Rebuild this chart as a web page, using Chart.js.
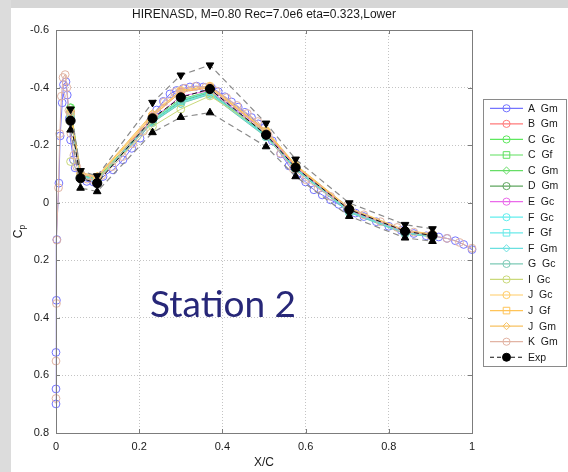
<!DOCTYPE html>
<html>
<head>
<meta charset="utf-8">
<script src="https://cdn.jsdelivr.net/npm/chart.js@4/dist/chart.umd.min.js"></script>
<style>
  html, body { margin: 0; padding: 0; background: #ffffff; }
  #wrap { width: 568px; height: 472px; }
</style>
</head>
<body>
<div id="wrap"><canvas id="cp" width="568" height="472"></canvas></div>
<script>
// ---- axis ticks ----
const xTicks = [0, 0.2, 0.4, 0.6, 0.8, 1];
const xTickLabels = ['0', '0.2', '0.4', '0.6', '0.8', '1'];
const yTicks = [-0.6, -0.4, -0.2, 0, 0.2, 0.4, 0.6, 0.8];
const yTickLabels = ['-0.6', '-0.4', '-0.2', '0', '0.2', '0.4', '0.6', '0.8'];

// ---- pressure tap chord positions (experiment and interpolated CFD) ----
const tapX = [0.035, 0.059, 0.099, 0.232, 0.300, 0.370, 0.505, 0.576, 0.705, 0.839, 0.905];

// ---- experiment: mean, upper and lower band ----
const expCp    = [-0.285, -0.085, -0.068, -0.293, -0.366, -0.395, -0.236, -0.122, 0.024, 0.099, 0.114];
const expUpper = [-0.325, -0.111, -0.093, -0.348, -0.443, -0.478, -0.276, -0.151, 0.001, 0.076, 0.091];
const expLower = [-0.253, -0.051, -0.039, -0.244, -0.297, -0.313, -0.195, -0.091, 0.047, 0.122, 0.134];

// ---- A Gm: full surface distribution ----
const aGmX  = [0.000, 0.000, 0.000, 0.001, 0.002, 0.007, 0.010, 0.015, 0.018, 0.024, 0.027, 0.032, 0.035, 0.042, 0.046, 0.058, 0.074, 0.090, 0.113, 0.137, 0.161, 0.182, 0.202, 0.226, 0.242, 0.258, 0.274, 0.290, 0.306, 0.322, 0.338, 0.354, 0.374, 0.390, 0.406, 0.422, 0.438, 0.454, 0.470, 0.486, 0.498, 0.520, 0.540, 0.560, 0.580, 0.600, 0.620, 0.640, 0.660, 0.680, 0.700, 0.720, 0.740, 0.770, 0.800, 0.830, 0.860, 0.890, 0.920, 0.940, 0.960, 0.980, 1.000];
const aGmCp = [0.699, 0.647, 0.520, 0.339, 0.128, -0.068, -0.232, -0.347, -0.410, -0.420, -0.374, -0.293, -0.218, -0.149, -0.121, -0.087, -0.074, -0.072, -0.091, -0.114, -0.149, -0.189, -0.224, -0.280, -0.322, -0.352, -0.378, -0.390, -0.397, -0.402, -0.405, -0.402, -0.399, -0.386, -0.368, -0.350, -0.332, -0.314, -0.296, -0.274, -0.258, -0.215, -0.170, -0.128, -0.098, -0.072, -0.045, -0.027, -0.010, 0.006, 0.022, 0.036, 0.048, 0.066, 0.082, 0.096, 0.107, 0.115, 0.119, 0.124, 0.132, 0.145, 0.163];

// ---- K Gm: full surface distribution ----
const kGmX  = [0.000, 0.000, 0.001, 0.002, 0.006, 0.009, 0.013, 0.017, 0.022, 0.026, 0.031, 0.036, 0.043, 0.050, 0.060, 0.075, 0.090, 0.110, 0.135, 0.160, 0.185, 0.210, 0.235, 0.260, 0.285, 0.310, 0.335, 0.360, 0.385, 0.410, 0.435, 0.460, 0.485, 0.510, 0.540, 0.570, 0.600, 0.630, 0.660, 0.700, 0.740, 0.780, 0.820, 0.860, 0.900, 0.940, 0.970, 1.000];
const kGmCp = [0.680, 0.550, 0.350, 0.130, -0.052, -0.240, -0.370, -0.435, -0.445, -0.400, -0.320, -0.240, -0.165, -0.125, -0.098, -0.082, -0.080, -0.095, -0.125, -0.160, -0.205, -0.248, -0.300, -0.350, -0.383, -0.398, -0.404, -0.401, -0.388, -0.365, -0.338, -0.310, -0.282, -0.235, -0.172, -0.118, -0.080, -0.050, -0.022, 0.012, 0.042, 0.066, 0.086, 0.102, 0.114, 0.124, 0.138, 0.158];

// ---- remaining CFD solutions at the tap positions ----
const bGm = [-0.300, -0.090, -0.075, -0.300, -0.385, -0.400, -0.245, -0.125, 0.025, 0.100, 0.115];
const cGc = [-0.330, -0.095, -0.080, -0.285, -0.355, -0.385, -0.235, -0.120, 0.030, 0.105, 0.115];
const cGf = [-0.325, -0.100, -0.080, -0.280, -0.350, -0.380, -0.232, -0.118, 0.032, 0.105, 0.117];
const cGm = [-0.330, -0.100, -0.085, -0.290, -0.360, -0.387, -0.238, -0.122, 0.028, 0.103, 0.115];
const dGm = [-0.315, -0.095, -0.080, -0.283, -0.352, -0.383, -0.234, -0.120, 0.030, 0.104, 0.116];
const eGc = [-0.310, -0.090, -0.078, -0.290, -0.370, -0.390, -0.240, -0.124, 0.026, 0.102, 0.114];
const fGc = [-0.300, -0.090, -0.075, -0.280, -0.345, -0.378, -0.230, -0.116, 0.033, 0.107, 0.118];
const fGf = [-0.305, -0.092, -0.077, -0.282, -0.350, -0.380, -0.232, -0.118, 0.031, 0.106, 0.117];
const fGm = [-0.310, -0.095, -0.080, -0.286, -0.356, -0.385, -0.236, -0.120, 0.029, 0.104, 0.116];
const gGc = [-0.295, -0.088, -0.075, -0.278, -0.345, -0.376, -0.228, -0.115, 0.034, 0.108, 0.118];
const iGc = [-0.143, -0.100, -0.085, -0.265, -0.325, -0.371, -0.245, -0.130, 0.020, 0.098, 0.112];
const jGc = [-0.310, -0.100, -0.090, -0.305, -0.390, -0.405, -0.250, -0.130, 0.020, 0.097, 0.110];
const jGf = [-0.315, -0.100, -0.088, -0.300, -0.385, -0.400, -0.248, -0.128, 0.022, 0.098, 0.111];
const jGm = [-0.320, -0.105, -0.092, -0.310, -0.390, -0.405, -0.252, -0.132, 0.018, 0.095, 0.109];

const toPoints = (xs, ys) => xs.map((x, i) => ({ x: x, y: ys[i] }));

// label, colour, marker, points
const cfdSeries = [
  ['A  Gm', '#7474ff', 'circle',  toPoints(aGmX, aGmCp)],
  ['B  Gm', '#ff7a7a', 'circle',  toPoints(tapX, bGm)],
  ['C  Gc', '#5ee85e', 'circle',  toPoints(tapX, cGc)],
  ['C  Gf', '#5ee05e', 'rect',    toPoints(tapX, cGf)],
  ['C  Gm', '#66dd66', 'rectRot', toPoints(tapX, cGm)],
  ['D  Gm', '#5fa65f', 'circle',  toPoints(tapX, dGm)],
  ['E  Gc', '#ea6aea', 'circle',  toPoints(tapX, eGc)],
  ['F  Gc', '#62eeee', 'circle',  toPoints(tapX, fGc)],
  ['F  Gf', '#6aeaea', 'rect',    toPoints(tapX, fGf)],
  ['F  Gm', '#6ae0e0', 'rectRot', toPoints(tapX, fGm)],
  ['G  Gc', '#7ccab6', 'circle',  toPoints(tapX, gGc)],
  ['I  Gc', '#cad97a', 'circle',  toPoints(tapX, iGc)],
  ['J  Gc', '#ffcc66', 'circle',  toPoints(tapX, jGc)],
  ['J  Gf', '#ffc458', 'rect',    toPoints(tapX, jGf)],
  ['J  Gm', '#f7c262', 'rectRot', toPoints(tapX, jGm)],
  ['K  Gm', '#e2b4a4', 'circle',  toPoints(kGmX, kGmCp)]
];

const markerRadius = { circle: 3.9, rect: 3.3, rectRot: 3.9 };

const datasets = [];
// experiment mean on top
datasets.push({
  label: 'Exp', data: toPoints(tapX, expCp), showLine: true,
  borderColor: '#111111', borderWidth: 1, borderDash: [5, 3],
  pointStyle: 'circle', pointRadius: 4.6, pointBackgroundColor: '#000000',
  pointBorderColor: '#000000', pointBorderWidth: 1, order: 0, clip: false,
  inLegend: true
});
datasets.push({
  label: 'Exp upper', data: toPoints(tapX, expUpper), showLine: true,
  borderColor: '#8a8a8a', borderWidth: 1.2, borderDash: [6, 4],
  pointStyle: 'triangle', rotation: 180, pointRadius: 4.4,
  pointBackgroundColor: '#000000', pointBorderColor: '#000000', pointBorderWidth: 1,
  order: 1, clip: false, inLegend: false
});
datasets.push({
  label: 'Exp lower', data: toPoints(tapX, expLower), showLine: true,
  borderColor: '#8a8a8a', borderWidth: 1.2, borderDash: [6, 4],
  pointStyle: 'triangle', pointRadius: 4.4,
  pointBackgroundColor: '#000000', pointBorderColor: '#000000', pointBorderWidth: 1,
  order: 1, clip: false, inLegend: false
});
cfdSeries.forEach((s, i) => {
  datasets.push({
    label: s[0], data: s[3], showLine: true,
    borderColor: s[1], borderWidth: 1,
    pointStyle: s[2], pointRadius: markerRadius[s[2]],
    pointBackgroundColor: 'rgba(0,0,0,0)', pointBorderColor: s[1], pointBorderWidth: 1,
    order: 20 - i, clip: false, inLegend: true
  });
});

// legend rows in listing order
const legendRows = cfdSeries.map(s => s[0]).concat(['Exp']);

function drawMarker(ctx, style, x, y, r, filled) {
  ctx.beginPath();
  if (style === 'rect') {
    ctx.rect(x - r, y - r, 2 * r, 2 * r);
  } else if (style === 'rectRot') {
    ctx.moveTo(x, y - r); ctx.lineTo(x + r, y); ctx.lineTo(x, y + r); ctx.lineTo(x - r, y); ctx.closePath();
  } else {
    ctx.arc(x, y, r, 0, Math.PI * 2);
  }
  if (filled) ctx.fill();
  ctx.stroke();
}

const decor = {
  id: 'decor',
  beforeDraw(chart) {
    const ctx = chart.ctx;
    ctx.save();
    ctx.fillStyle = '#ffffff';
    ctx.fillRect(0, 0, chart.width, chart.height);
    // slide frame
    ctx.fillStyle = '#d6d6d6';
    ctx.fillRect(0, 0, chart.width, 8);
    ctx.fillStyle = '#dcdcdc';
    ctx.fillRect(0, 0, 11, chart.height);
    ctx.restore();
  },
  afterDatasetsDraw(chart) {
    const ctx = chart.ctx;
    const a = chart.chartArea;
    const xs = chart.scales.x, ys = chart.scales.y;
    ctx.save();
    // axes box with inward ticks
    ctx.strokeStyle = '#7c7c7c';
    ctx.lineWidth = 1;
    ctx.strokeRect(Math.round(a.left) + 0.5, Math.round(a.top) + 0.5,
                   Math.round(a.right - a.left), Math.round(a.bottom - a.top));
    ctx.beginPath();
    xTicks.forEach(v => {
      const px = Math.round(xs.getPixelForValue(v)) + 0.5;
      ctx.moveTo(px, a.bottom); ctx.lineTo(px, a.bottom - 4);
      ctx.moveTo(px, a.top); ctx.lineTo(px, a.top + 4);
    });
    yTicks.forEach(v => {
      const py = Math.round(ys.getPixelForValue(v)) + 0.5;
      ctx.moveTo(a.left, py); ctx.lineTo(a.left + 4, py);
      ctx.moveTo(a.right, py); ctx.lineTo(a.right - 4, py);
    });
    ctx.stroke();

    // title
    ctx.fillStyle = '#1a1a1a';
    ctx.font = '12px "Liberation Sans", Arial, sans-serif';
    ctx.textAlign = 'center';
    ctx.textBaseline = 'middle';
    ctx.fillText('HIRENASD, M=0.80 Rec=7.0e6 eta=0.323,Lower', (a.left + a.right) / 2, 15);

    // x label
    ctx.font = '12px "Liberation Sans", Arial, sans-serif';
    ctx.fillText('X/C', (a.left + a.right) / 2, 463);

    // y label C_p
    ctx.save();
    ctx.translate(19, (a.top + a.bottom) / 2);
    ctx.rotate(-Math.PI / 2);
    ctx.textAlign = 'left';
    ctx.font = '12px "Liberation Sans", Arial, sans-serif';
    const cw = ctx.measureText('C').width;
    ctx.font = '8.5px "Liberation Sans", Arial, sans-serif';
    const pw = ctx.measureText('p').width;
    const x0 = -(cw + pw) / 2;
    ctx.font = '12px "Liberation Sans", Arial, sans-serif';
    ctx.fillText('C', x0, 0);
    ctx.font = '8.5px "Liberation Sans", Arial, sans-serif';
    ctx.fillText('p', x0 + cw, 4);
    ctx.restore();

    // station caption
    ctx.fillStyle = '#272778';
    ctx.font = '37px Lato, "Open Sans", sans-serif';
    ctx.textAlign = 'left';
    ctx.textBaseline = 'alphabetic';
    ctx.fillText('Station 2', 150, 317);

    // legend
    const bx = 483.5, by = 99.5, bw = 83, bh = 267;
    ctx.fillStyle = '#ffffff';
    ctx.fillRect(bx, by, bw, bh);
    ctx.strokeStyle = '#8a8a8a';
    ctx.lineWidth = 1;
    ctx.strokeRect(bx, by, bw, bh);
    ctx.font = '10.5px "Liberation Sans", Arial, sans-serif';
    ctx.textBaseline = 'middle';
    legendRows.forEach((name, i) => {
      const ds = chart.data.datasets.find(d => d.label === name);
      const y = 108.3 + i * 15.56;
      ctx.strokeStyle = ds.borderColor;
      ctx.fillStyle = ds.pointBackgroundColor;
      ctx.lineWidth = 1.2;
      ctx.setLineDash(ds.borderDash ? [4, 3] : []);
      ctx.beginPath();
      ctx.moveTo(490, y); ctx.lineTo(523, y);
      ctx.stroke();
      ctx.setLineDash([]);
      ctx.lineWidth = 1;
      ctx.strokeStyle = ds.pointBorderColor;
      const filled = name === 'Exp';
      drawMarker(ctx, ds.pointStyle, 506.5, y, filled ? 4 : Math.min(ds.pointRadius, 3.6), filled);
      ctx.fillStyle = '#1a1a1a';
      ctx.fillText(name, 528, y + 0.5);
    });
    ctx.restore();
  }
};

new Chart(document.getElementById('cp'), {
  type: 'scatter',
  data: { datasets: datasets },
  options: {
    responsive: false,
    animation: false,
    devicePixelRatio: 1,
    layout: { padding: { left: 0, right: 96, top: 30, bottom: 0 } },
    plugins: { legend: { display: false }, title: { display: false }, tooltip: { enabled: false } },
    elements: { line: { tension: 0 } },
    scales: {
      x: {
        type: 'linear', min: 0, max: 1,
        afterFit: s => { s.height = 39; },
        afterBuildTicks: s => { s.ticks = xTicks.map(v => ({ value: v })); },
        ticks: {
          padding: 7, color: '#1a1a1a', maxRotation: 0,
          font: { family: '"Liberation Sans", Arial, sans-serif', size: 11 },
          callback: (v) => xTickLabels[xTicks.indexOf(v)]
        },
        grid: { color: '#c4c4c4', lineWidth: 1, drawTicks: false },
        border: { display: false, dash: [1, 2] }
      },
      y: {
        type: 'linear', min: -0.6, max: 0.8, reverse: true,
        afterFit: s => { s.width = 56; },
        afterBuildTicks: s => { s.ticks = yTicks.map(v => ({ value: v })); },
        ticks: {
          padding: 7, color: '#1a1a1a',
          font: { family: '"Liberation Sans", Arial, sans-serif', size: 11 },
          callback: (v) => { const i = yTicks.findIndex(t => Math.abs(t - v) < 1e-9); return i >= 0 ? yTickLabels[i] : ''; }
        },
        grid: { color: '#c4c4c4', lineWidth: 1, drawTicks: false },
        border: { display: false, dash: [1, 2] }
      }
    }
  },
  plugins: [decor]
});
</script>
</body>
</html>
